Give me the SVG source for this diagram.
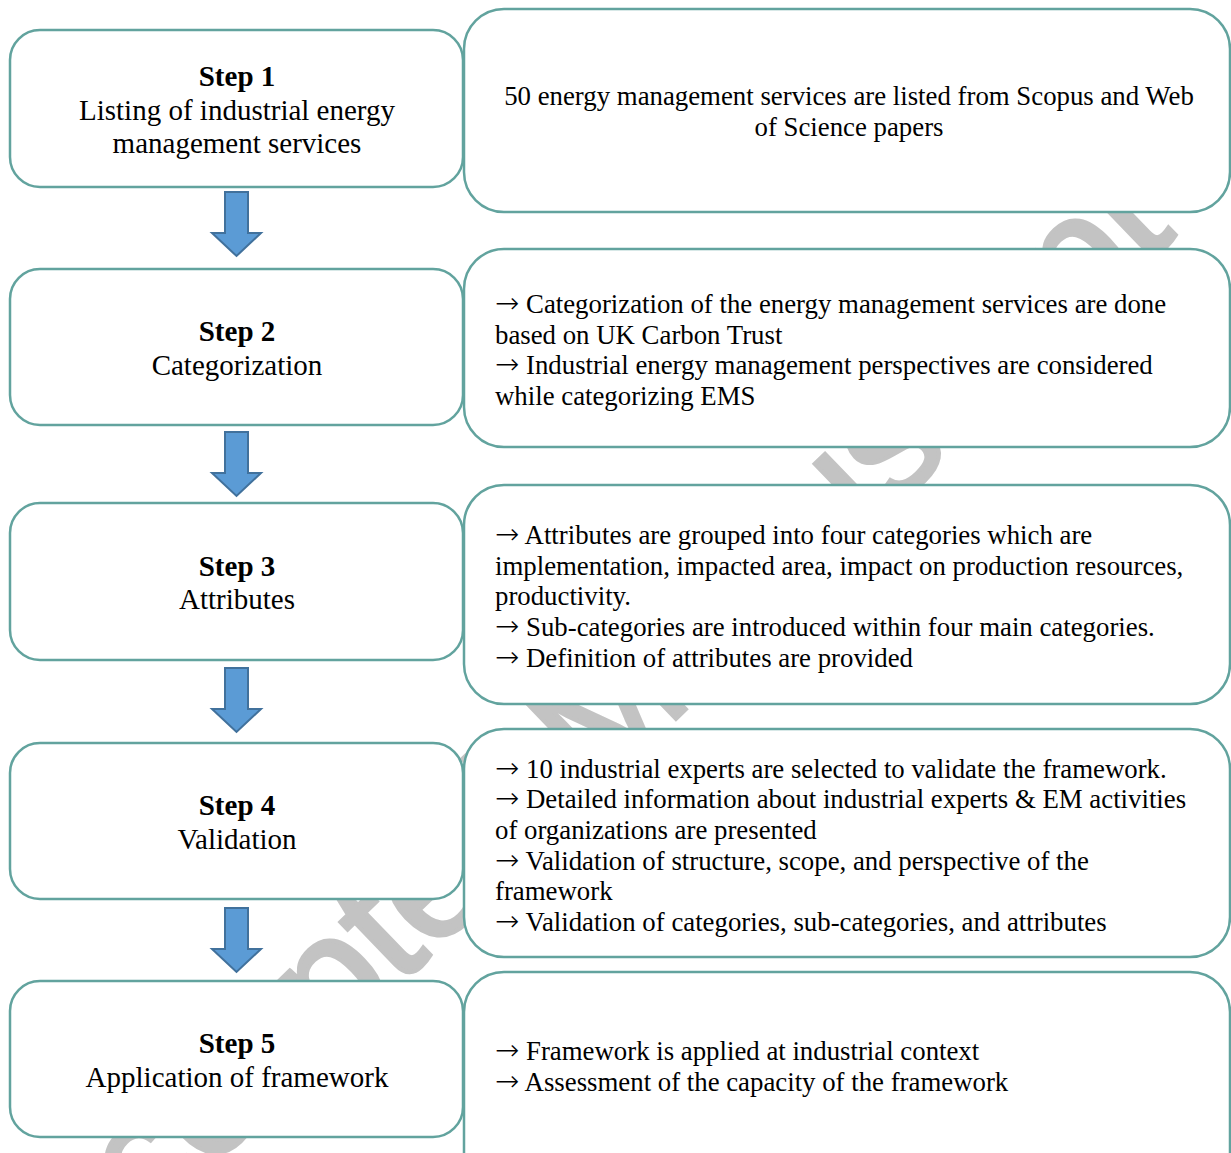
<svg xmlns="http://www.w3.org/2000/svg" width="1231" height="1153" viewBox="0 0 1231 1153">
<defs>
<style>
.box{fill:#ffffff;stroke:#62a39e;stroke-width:2.5}
.arrow{fill:#5b9bd5;stroke:#41719c;stroke-width:2}
.t{font-family:"Liberation Serif","Times New Roman",serif;fill:#000}
.step{font-size:29px;text-anchor:middle}
.b{font-weight:bold}
.r{font-size:26.8px}
.ar{font-family:"DejaVu Sans",sans-serif;font-size:29px;font-weight:200}
.wm{font-family:"Liberation Sans",Arial,sans-serif;font-size:165px;fill:#c3c3c3;stroke:#c3c3c3;stroke-width:4}
</style>
</defs>
<rect width="1231" height="1153" fill="#ffffff"/>
<text class="wm" transform="translate(69,1305) rotate(-44)">Accepted Manuscript</text>

<g id="connectors">
<path class="arrow" d="M225,192 H248 V233 H261 L236.5,256 L212,233 H225 Z"/>
<path class="arrow" d="M225,432 H248 V473 H261 L236.5,496 L212,473 H225 Z"/>
<path class="arrow" d="M225,668 H248 V709 H261 L236.5,732 L212,709 H225 Z"/>
<path class="arrow" d="M225,908 H248 V949 H261 L236.5,972 L212,949 H225 Z"/>
</g>

<g id="step1">
<rect class="box" x="10" y="30" width="453" height="157" rx="30"/>
<text class="t step b" x="237" y="86">Step 1</text>
<text class="t step" x="237" y="120">Listing of industrial energy</text>
<text class="t step" x="237" y="153">management services</text>
</g>
<g id="desc1">
<rect class="box" x="464" y="9" width="766" height="203" rx="40"/>
<text class="t r" x="849" y="105" text-anchor="middle">50 energy management services are listed from Scopus and Web</text>
<text class="t r" x="849" y="136" text-anchor="middle">of Science papers</text>
</g>

<g id="step2">
<rect class="box" x="10" y="269" width="453" height="156" rx="30"/>
<text class="t step b" x="237" y="341">Step 2</text>
<text class="t step" x="237" y="375">Categorization</text>
</g>
<g id="desc2">
<rect class="box" x="464" y="249" width="766" height="198" rx="40"/>
<text class="t r" x="495" y="313"><tspan class="ar">→</tspan> Categorization of the energy management services are done</text>
<text class="t r" x="495" y="344">based on UK Carbon Trust</text>
<text class="t r" x="495" y="374"><tspan class="ar">→</tspan> Industrial energy management perspectives are considered</text>
<text class="t r" x="495" y="405">while categorizing EMS</text>
</g>

<g id="step3">
<rect class="box" x="10" y="503" width="453" height="157" rx="30"/>
<text class="t step b" x="237" y="576">Step 3</text>
<text class="t step" x="237" y="609">Attributes</text>
</g>
<g id="desc3">
<rect class="box" x="464" y="485" width="766" height="219" rx="40"/>
<text class="t r" x="495" y="544"><tspan class="ar">→</tspan> Attributes are grouped into four categories which are</text>
<text class="t r" x="495" y="575">implementation, impacted area, impact on production resources,</text>
<text class="t r" x="495" y="605">productivity.</text>
<text class="t r" x="495" y="636"><tspan class="ar">→</tspan> Sub-categories are introduced within four main categories.</text>
<text class="t r" x="495" y="667"><tspan class="ar">→</tspan> Definition of attributes are provided</text>
</g>

<g id="step4">
<rect class="box" x="10" y="743" width="453" height="156" rx="30"/>
<text class="t step b" x="237" y="815">Step 4</text>
<text class="t step" x="237" y="849">Validation</text>
</g>
<g id="desc4">
<rect class="box" x="464" y="729" width="766" height="228" rx="40"/>
<text class="t r" x="495" y="778"><tspan class="ar">→</tspan> 10 industrial experts are selected to validate the framework.</text>
<text class="t r" x="495" y="808"><tspan class="ar">→</tspan> Detailed information about industrial experts &amp; EM activities</text>
<text class="t r" x="495" y="839">of organizations are presented</text>
<text class="t r" x="495" y="870"><tspan class="ar">→</tspan> Validation of structure, scope, and perspective of the</text>
<text class="t r" x="495" y="900">framework</text>
<text class="t r" x="495" y="931"><tspan class="ar">→</tspan> Validation of categories, sub-categories, and attributes</text>
</g>

<g id="step5">
<rect class="box" x="10" y="981" width="453" height="156" rx="30"/>
<text class="t step b" x="237" y="1053">Step 5</text>
<text class="t step" x="237" y="1087">Application of framework</text>
</g>
<g id="desc5">
<rect class="box" x="464" y="972" width="766" height="220" rx="40"/>
<text class="t r" x="495" y="1060"><tspan class="ar">→</tspan> Framework is applied at industrial context</text>
<text class="t r" x="495" y="1091"><tspan class="ar">→</tspan> Assessment of the capacity of the framework</text>
</g>
</svg>
